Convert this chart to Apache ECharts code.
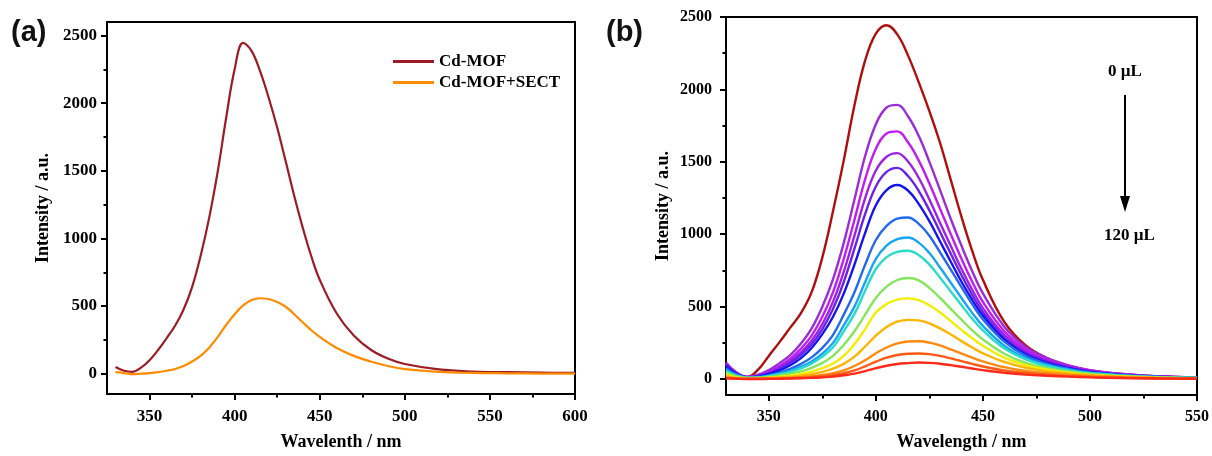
<!DOCTYPE html>
<html>
<head>
<meta charset="utf-8">
<script src="https://cdn.jsdelivr.net/npm/echarts@6/dist/echarts.min.js"></script>
<style>
  html, body { margin: 0; padding: 0; background: #fff; }
  #chart { width: 1212px; height: 456px; }
</style>
</head>
<body>
<div id="chart"></div>
<script>
// ---- panel (a): Cd-MOF with / without SECT ----
const wavelengthA = [330, 335, 340, 345, 350, 355, 360, 365, 370, 375, 380, 385, 390, 395, 400, 405, 410, 415, 420, 425,
  430, 435, 440, 445, 450, 460, 470, 480, 490, 500, 520, 540, 560, 580, 600]
const cdMof = [50, 22, 14, 45, 100, 175, 262, 355, 475, 640, 870, 1150, 1490, 1890, 2250, 2445, 2385, 2235, 2040, 1820,
  1570, 1315, 1080, 870, 695, 445, 282, 177, 112, 72, 32, 16, 11, 8, 6]
const cdMofSect = [12, 5, -3, 0, 5, 12, 22, 35, 57, 90, 132, 192, 270, 360, 440, 505, 545, 558, 552, 530,
  495, 440, 380, 322, 272, 190, 132, 90, 57, 34, 13, 6, 3, 1, 0]

// ---- panel (b): titration 0 µL -> 120 µL ----
const wavelengthB = [330, 335, 340, 345, 350, 355, 360, 365, 370, 375, 380, 385, 390, 395, 400, 405, 410, 415, 420, 425,
  430, 435, 440, 445, 450, 460, 470, 480, 490, 500, 515, 530, 550]
const b00 = [35, 20, 15, 65, 160, 255, 355, 455, 600, 840, 1160, 1510, 1890, 2200, 2385, 2443, 2380, 2235, 2050, 1850,
  1630, 1375, 1120, 885, 685, 395, 232, 145, 92, 60, 35, 20, 12]
const b01 = [115, 45, 15, 30, 62, 110, 165, 245, 350, 500, 690, 940, 1240, 1540, 1760, 1875, 1893, 1815, 1680, 1500,
  1305, 1105, 920, 745, 592, 362, 222, 145, 95, 62, 35, 20, 12]
const b02 = [110, 42, 14, 25, 50, 90, 140, 210, 300, 430, 600, 830, 1100, 1380, 1590, 1695, 1710, 1635, 1510, 1350,
  1175, 1000, 830, 672, 532, 330, 205, 135, 90, 60, 34, 20, 12]
const b03 = [105, 40, 14, 22, 44, 80, 125, 185, 265, 380, 535, 740, 990, 1250, 1440, 1535, 1560, 1502, 1390, 1240,
  1078, 918, 760, 617, 490, 305, 190, 125, 85, 55, 32, 18, 11]
const b04 = [100, 38, 13, 20, 40, 72, 112, 168, 240, 345, 485, 670, 900, 1140, 1330, 1430, 1458, 1402, 1300, 1165,
  1015, 865, 717, 582, 462, 285, 180, 120, 80, 52, 30, 17, 10]
const b05 = [90, 35, 12, 18, 35, 60, 95, 145, 215, 310, 430, 590, 790, 1010, 1200, 1305, 1340, 1302, 1210, 1090,
  950, 810, 672, 547, 437, 272, 170, 112, 75, 50, 28, 16, 10]
const b06 = [75, 30, 11, 14, 27, 45, 70, 105, 150, 215, 305, 445, 600, 790, 960, 1058, 1108, 1116, 1072, 990,
  875, 755, 635, 517, 412, 258, 160, 105, 70, 46, 27, 15, 9]
const b07 = [62, 25, 10, 12, 22, 37, 56, 84, 122, 175, 250, 370, 500, 670, 830, 922, 966, 977, 942, 870,
  770, 665, 560, 457, 367, 230, 145, 96, 64, 42, 25, 14, 9]
const b08 = [55, 22, 9, 11, 20, 33, 50, 74, 108, 155, 220, 330, 450, 610, 760, 842, 878, 886, 857, 790,
  700, 605, 510, 417, 337, 212, 136, 90, 60, 40, 24, 14, 8]
const b09 = [45, 18, 8, 9, 15, 24, 36, 53, 78, 112, 160, 235, 330, 445, 560, 638, 684, 698, 682, 630,
  560, 485, 410, 337, 274, 175, 112, 76, 52, 35, 21, 12, 7]
const b10 = [30, 12, 6, 6, 10, 16, 24, 35, 52, 75, 108, 160, 240, 345, 460, 518, 549, 557, 545, 510,
  460, 400, 340, 282, 230, 148, 96, 65, 45, 30, 18, 10, 6]
const b11 = [20, 8, 4, 4, 7, 11, 16, 23, 34, 50, 72, 105, 155, 225, 300, 360, 396, 409, 405, 385,
  350, 308, 262, 218, 178, 118, 78, 54, 38, 26, 16, 9, 5]
const b12 = [12, 5, 2, 2, 4, 6, 9, 13, 19, 28, 40, 60, 90, 130, 178, 218, 246, 259, 261, 252,
  232, 205, 176, 148, 122, 82, 56, 40, 28, 20, 12, 7, 4]
const b13 = [8, 3, 1, 1, 2, 4, 6, 9, 13, 19, 27, 40, 60, 88, 120, 148, 166, 175, 177, 172,
  160, 143, 124, 105, 87, 60, 42, 30, 22, 15, 9, 5, 3]
const b14 = [5, 2, 0, 0, 1, 2, 4, 6, 8, 12, 17, 26, 38, 55, 75, 92, 104, 110, 114, 112,
  106, 96, 85, 73, 62, 44, 31, 23, 17, 12, 7, 4, 2]
const titrationCurves = [b00, b01, b02, b03, b04, b05, b06, b07, b08, b09, b10, b11, b12, b13, b14]
const titrationColors = ['#b00d0d', '#9a2ed6', '#c21cf2', '#9c22e6', '#6a22e8', '#1414f0', '#2468ee', '#18a4f4',
  '#28dcc8', '#84e65a', '#f2ee00', '#ffb400', '#ff8a10', '#ff5a14', '#ff2a1a']

// ticks
const xTicksA = [350, 400, 450, 500, 550, 600]
const xMinorA = [375, 425, 475, 525, 575]
const xTicksB = [350, 400, 450, 500, 550]
const xMinorB = [375, 425, 475, 525]
const yTicks = [0, 500, 1000, 1500, 2000, 2500]
const yMinor = [250, 750, 1250, 1750, 2250]

const serif = 'Liberation Serif'
const black = { color: '#000', width: 2 }

const pairs = (xs, ys) => xs.map((x, i) => [x, ys[i]])

const mainAxis = (gridIndex, min, max, ticks, name, nameGap, fontSize, margin, pos) => ({
  gridIndex, type: 'value', min, max, position: pos,
  name, nameLocation: 'middle', nameGap,
  nameTextStyle: { fontFamily: serif, fontWeight: 'bold', fontSize: 18, color: '#000' },
  axisLine: { show: true, onZero: false, lineStyle: black },
  axisTick: { show: true, inside: false, length: 6, lineStyle: black, customValues: ticks },
  axisLabel: {
    customValues: ticks, margin, fontFamily: serif, fontWeight: 'bold', fontSize, color: '#000',
    formatter: (v) => String(v)
  },
  splitLine: { show: false }
})

const minorAxis = (gridIndex, min, max, ticks, pos) => ({
  gridIndex, type: 'value', min, max, position: pos,
  axisLine: { show: false, onZero: false },
  axisTick: { show: true, inside: false, length: 3.5, lineStyle: black, customValues: ticks },
  axisLabel: { show: false },
  splitLine: { show: false }
})

const chart = echarts.init(document.getElementById('chart'))

const seriesB = titrationCurves.map((ys, i) => ({
  name: 'b' + i,
  type: 'line',
  xAxisIndex: 2, yAxisIndex: 2,
  smooth: 0.4,
  symbol: 'none',
  lineStyle: { width: 2.4, color: titrationColors[i] },
  data: pairs(wavelengthB, ys)
}))

const option = {
  animation: false,
  backgroundColor: '#fff',
  grid: [
    { left: 107, top: 22, right: 637, bottom: 58, show: true, borderColor: '#000', borderWidth: 2 },
    { left: 726, top: 17, right: 14, bottom: 57, show: true, borderColor: '#000', borderWidth: 2 }
  ],
  legend: {
    data: [
      { name: 'Cd-MOF', icon: 'rect' },
      { name: 'Cd-MOF+SECT', icon: 'rect' }
    ],
    left: 388, top: 48, orient: 'vertical',
    itemWidth: 41, itemHeight: 3, itemGap: 4, itemStyle: { borderWidth: 0 },
    textStyle: { fontFamily: serif, fontWeight: 'bold', fontSize: 17, color: '#000' }
  },
  xAxis: [
    mainAxis(0, 325, 600, xTicksA, 'Wavelenth / nm', 39, 17, 14, 'bottom'),
    minorAxis(0, 325, 600, xMinorA, 'bottom'),
    mainAxis(1, 330, 550, xTicksB, 'Wavelength / nm', 38, 16, 14, 'bottom'),
    minorAxis(1, 330, 550, xMinorB, 'bottom')
  ],
  yAxis: [
    mainAxis(0, -150, 2600, yTicks, 'Intensity / a.u.', 55, 17, 10, 'left'),
    minorAxis(0, -150, 2600, yMinor, 'left'),
    mainAxis(1, -110, 2500, yTicks, 'Intensity / a.u.', 54, 16, 14, 'left'),
    minorAxis(1, -110, 2500, yMinor, 'left')
  ],
  graphic: [
    { type: 'text', left: 11, top: 18, style: { text: '(a)', font: 'bold 29px "Liberation Sans"', fill: '#111' } },
    { type: 'text', left: 606, top: 18, style: { text: '(b)', font: 'bold 29px "Liberation Sans"', fill: '#111' } },
    { type: 'text', left: 1108, top: 63, style: { text: '0 µL', font: 'bold 17px "Liberation Serif"', fill: '#000' } },
    { type: 'text', left: 1104, top: 227, style: { text: '120 µL', font: 'bold 17px "Liberation Serif"', fill: '#000' } },
    { type: 'line', shape: { x1: 1125, y1: 95, x2: 1125, y2: 200 }, style: { stroke: '#000', lineWidth: 2 } },
    { type: 'polygon', shape: { points: [[1120, 196], [1130, 196], [1125, 212]] }, style: { fill: '#000' } }
  ],
  series: [
    {
      name: 'Cd-MOF', type: 'line', xAxisIndex: 0, yAxisIndex: 0,
      smooth: 0.4, symbol: 'none',
      lineStyle: { width: 2.2, color: '#9c1b25' }, itemStyle: { color: '#9c1b25' },
      data: pairs(wavelengthA, cdMof)
    },
    {
      name: 'Cd-MOF+SECT', type: 'line', xAxisIndex: 0, yAxisIndex: 0,
      smooth: 0.4, symbol: 'none',
      lineStyle: { width: 2.2, color: '#ff8c00' }, itemStyle: { color: '#ff8c00' },
      data: pairs(wavelengthA, cdMofSect)
    },
    ...seriesB
  ]
}

chart.setOption(option)
window.addEventListener('resize', () => chart.resize())
</script>
</body>
</html>
